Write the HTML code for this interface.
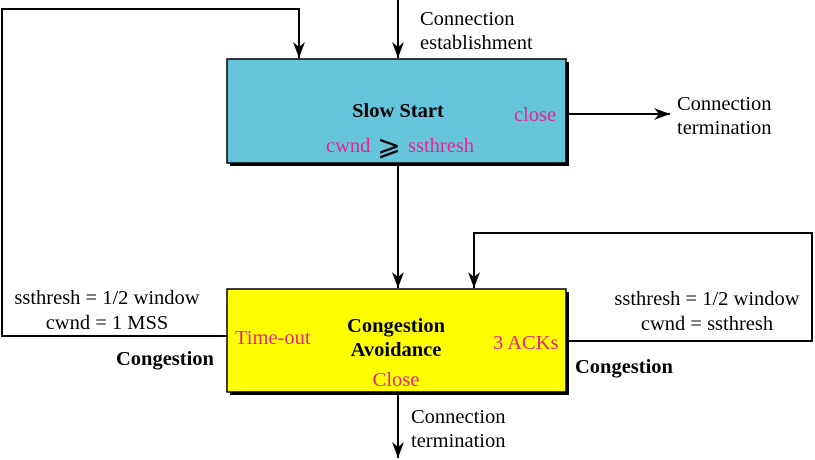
<!DOCTYPE html>
<html><head><meta charset="utf-8"><style>
html,body{margin:0;padding:0;background:#fff;width:815px;height:460px;overflow:hidden}
svg{display:block}
text{font-family:"Liberation Serif",serif;font-size:20.5px}
.m{fill:#e8248c}
.b{font-weight:bold}
</style></head><body>
<svg width="815" height="460" viewBox="0 0 815 460" xmlns="http://www.w3.org/2000/svg">
<defs>
<marker id="r" markerWidth="16" markerHeight="12" refX="16" refY="6" orient="auto" markerUnits="userSpaceOnUse" viewBox="0 0 16 12"><path d="M0,0 L16,6 L0,12 L5,6 Z" fill="#000"/></marker></defs>
<g stroke="#000" stroke-width="2" fill="none">
<polyline points="227,336 2,336 2,9 299,9 299,58" marker-end="url(#r)"/>
<line x1="398" y1="0" x2="398" y2="58" marker-end="url(#r)"/>
<line x1="398" y1="165" x2="398" y2="288" marker-end="url(#r)"/>
<line x1="566" y1="114" x2="670" y2="114" marker-end="url(#r)"/>
<polyline points="566,341 812,341 812,233 474,233 474,288" marker-end="url(#r)"/>
<line x1="398" y1="393" x2="398" y2="458" marker-end="url(#r)"/>
</g>
<rect x="230" y="62" width="339" height="104" fill="#000"/>
<rect x="227" y="59" width="339" height="104" fill="#66c5dd" stroke="#000" stroke-width="1.5"/>
<rect x="230" y="292" width="339" height="103" fill="#000"/>
<rect x="227" y="289" width="339" height="103" fill="#ffff00" stroke="#000" stroke-width="1.5"/>
<text x="398" y="117" text-anchor="middle" class="b">Slow Start</text>
<text x="535" y="121" text-anchor="middle" class="m">close</text>
<text x="326" y="152" class="m">cwnd</text>
<text x="389" y="155" text-anchor="middle" style="font-size:28px">⩾</text>
<text x="408" y="152" class="m">ssthresh</text>
<text x="396" y="332" text-anchor="middle" class="b">Congestion</text>
<text x="396" y="356" text-anchor="middle" class="b">Avoidance</text>
<text x="235" y="344" class="m">Time-out</text>
<text x="493" y="349" class="m">3 ACKs</text>
<text x="396" y="386" text-anchor="middle" class="m">Close</text>
<text x="420" y="25">Connection</text>
<text x="420" y="49">establishment</text>
<text x="677" y="110">Connection</text>
<text x="677" y="134">termination</text>
<text x="411" y="423">Connection</text>
<text x="411" y="447">termination</text>
<text x="107" y="304" text-anchor="middle">ssthresh = 1/2 window</text>
<text x="107" y="329" text-anchor="middle">cwnd = 1 MSS</text>
<text x="116" y="365" class="b">Congestion</text>
<text x="707" y="305" text-anchor="middle">ssthresh = 1/2 window</text>
<text x="707" y="330" text-anchor="middle">cwnd = ssthresh</text>
<text x="575" y="373" class="b">Congestion</text>
</svg>
</body></html>
